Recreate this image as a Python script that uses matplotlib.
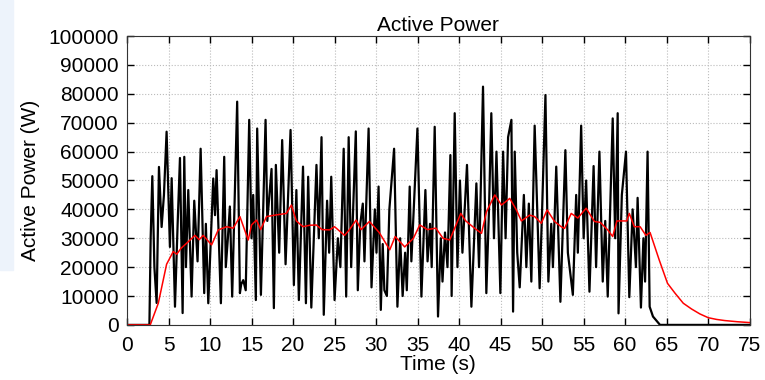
import matplotlib
matplotlib.use("Agg")
import matplotlib.pyplot as plt
from matplotlib.patches import Rectangle

t_meas = [0, 2.7, 2.85, 3.05, 3.3, 3.57, 3.85, 4.17, 4.45, 4.77, 5.17, 5.38, 5.78, 6.1, 6.38,
          6.7, 6.9, 7.1, 7.38, 7.78, 8.1, 8.5, 8.87, 9.3, 9.5, 9.79, 10.1, 10.39, 10.6, 10.79,
          11.31, 11.71, 11.9, 12.15, 12.39, 12.67, 13.27, 13.6, 13.75, 14.0, 14.3, 14.72, 15.0,
          15.2, 15.52, 15.68, 16.13, 16.4, 16.69, 16.9, 17.41, 17.69, 17.93, 18.33, 18.69, 19.1,
          19.35, 19.7, 20.1, 20.4, 20.7, 21.2, 21.55, 21.82, 22.2, 22.5, 22.82, 23.1, 23.43, 23.7,
          24.1, 24.35, 24.6, 25.0, 25.4, 25.7, 26.1, 26.4, 26.7, 27.0, 27.56, 27.8, 28.1, 28.4,
          28.6, 29.1, 29.45, 29.85, 30.05, 30.3, 30.57, 30.8, 31.0, 31.3, 31.6, 32.17, 32.57,
          32.9, 33.2, 33.5, 33.7, 34.05, 34.25, 34.98, 35.46, 35.94, 36.2, 36.5, 36.7, 37.06,
          37.46, 37.8, 38.0, 38.3, 38.6, 38.95, 39.1, 39.47, 39.8, 40.1, 40.4, 40.95, 41.48,
          42.08, 42.4, 42.88, 43.28, 43.6, 43.88, 44.2, 44.5, 44.97, 45.3, 45.6, 45.9, 46.3,
          46.5, 46.7, 47.0, 47.3, 47.8, 48.1, 48.4, 48.7, 49.1, 49.7, 50.0, 50.4, 50.75, 51.1,
          51.3, 51.7, 52.2, 52.8, 53.1, 53.7, 54.1, 54.3, 54.7, 55.0, 55.3, 55.7, 56.2, 56.5,
          56.9, 57.3, 57.6, 57.9, 58.5, 58.8, 59.1, 59.2, 59.6, 60.1, 60.5, 60.9, 61.3, 61.5,
          61.9, 62.2, 62.4, 62.7, 62.95, 63.35, 64.2, 75]
p_meas = [0, 0, 30000, 51500, 20000, 7600, 54700, 33900, 45000, 66900, 27000, 50800, 6300, 35000, 57800,
          4100, 58200, 20000, 46700, 9800, 43000, 22000, 61000, 11000, 35000, 7500, 30000, 50700, 38000, 53600,
          7500, 58200, 20000, 30000, 41000, 9800, 77300, 11000, 14000, 15500, 12000, 71000, 30000,
          45000, 8600, 68000, 10400, 40000, 71000, 36000, 54000, 5800, 55400, 25000, 64000, 21000,
          40000, 67500, 13800, 46700, 8600, 54800, 7500, 51300, 6000, 30000, 55400, 30000, 65000, 3500,
          43000, 25000, 51300, 8600, 30000, 20000, 61000, 9800, 65000, 20000, 67000, 12000, 35000, 42000,
          22000, 68000, 13000, 40000, 25000, 47900, 5200, 28000, 12000, 10000, 40000, 61000, 6300,
          30000, 10000, 25000, 12000, 47900, 22000, 68000, 9800, 46700, 22000, 35000, 20000, 68600,
          2900, 30000, 15000, 32000, 20000, 58800, 10000, 73300, 20000, 50000, 25000, 55400, 6300,
          49000, 20000, 82500, 11000, 40000, 73300, 30000, 60000, 11000, 60000, 30000, 65000, 71000,
          4600, 60000, 25000, 13000, 45000, 20000, 42000, 15000, 69000, 12700, 40000, 79600, 15000, 35000,
          20000, 54800, 8000, 60500, 25000, 10400, 45000, 25000, 69000, 30000, 50000, 11500, 55000, 20000,
          60000, 15000, 36000, 9800, 71500, 30000, 73300, 4000, 45000, 60000, 9600, 40000, 20000, 44000,
          6000, 30000, 15000, 60000, 6300, 2900, 0, 0]

# smoothed power (red)
t_avg = [0, 2.8, 3.77, 4.77, 5.57, 6.0, 6.5, 7.38, 8.18, 8.7, 9.18, 10.19, 10.99, 12.0, 12.8, 13.6,
         14.6, 15.0, 15.6, 16.1, 16.8, 17.8, 19.2, 19.8, 20.4, 21.2, 22.0, 22.8, 23.5, 24.4, 25.0,
         26.2, 26.8, 27.6, 28.2, 29.2, 30.4, 31.65, 32.3, 33.45, 34.5, 35.26, 36.2, 37.2, 38.06,
         38.87, 39.4, 40.2, 40.8, 41.9, 42.7, 43.3, 44.3, 45.1, 46.1, 46.9, 47.5, 48.5, 49.1, 49.9,
         50.6, 51.5, 52.3, 52.7, 53.5, 54.3, 55.3, 56.3, 57.0, 57.9, 58.5, 59.0, 60.2, 60.5, 61.1,
         61.8, 62.5, 63.0, 64.1, 65.1, 66.0, 67.0, 68.0, 69.0, 70.0, 71.0, 72.0, 73.5, 75.0]
p_avg = [0, 0, 7500, 21000, 25400, 24500, 26500, 28800, 31000, 29500, 31000, 27700, 32900, 34000, 33500, 37500,
         29400, 34600, 36300, 33000, 37500, 38000, 38600, 41500, 36000, 34000, 34500, 34600, 33000, 32900, 34000,
         31000, 33000, 36300, 33000, 35800, 31900, 26000, 30600, 27000, 30000, 34600, 33000, 33500, 30000,
         29400, 33000, 38600, 36000, 33400, 31700, 39200, 45000, 41500, 43800, 39800, 36000, 38000, 37500, 35200,
         39800, 35800, 34000, 33400, 38600, 37000, 40400, 35800, 35500, 32900, 30600, 36000, 36000, 38600, 34000,
         34000, 31000, 32000, 22500, 14400, 11000, 7500, 5500, 3800, 2500, 1900, 1500, 1100, 800]

plt.rcParams['font.family'] = ['Liberation Sans', 'DejaVu Sans']

fig = plt.figure(figsize=(7.65, 3.8), dpi=100)
fig.patches.append(Rectangle((0, 0.29), 13 / 765, 0.71, transform=fig.transFigure,
                             color="#edf3fb", zorder=0))
ax = fig.add_axes([0.166, 0.145, 0.814, 0.76])

ax.plot(t_meas, p_meas, color="k", linewidth=1.6)
ax.plot(t_avg, p_avg, color="r", linewidth=1.1)

ax.set_xlim(0, 75)
ax.set_ylim(0, 100000)
ax.set_xticks(range(0, 76, 5))
ax.set_yticks(range(0, 100001, 10000))
ax.grid(True, linestyle=":", color="#bbbbbb", linewidth=0.8)
ax.tick_params(direction="in", top=True, right=True, length=5, labelsize=15, width=1)
ax.tick_params(axis="x", pad=8)
ax.tick_params(axis="y", pad=6)
for s in ax.spines.values():
    s.set_color("#333333")

ax.set_title("Active Power", fontsize=15, pad=4)
ax.set_xlabel("Time (s)", fontsize=15, labelpad=0)
ax.set_ylabel("Active Power (W)", fontsize=15, labelpad=6)

fig.savefig("out.png", dpi=100)
